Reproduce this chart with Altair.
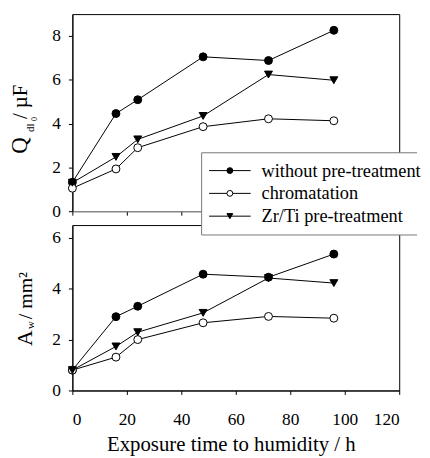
import altair as alt
import pandas as pd

# ---------------- data ----------------
times = [0, 16, 24, 48, 72, 96]
series_names = ["without pre-treatment", "chromatation", "Zr/Ti pre-treatment"]
q_without = [1.32, 4.46, 5.09, 7.05, 6.88, 8.26]
q_chrom = [1.05, 1.93, 2.90, 3.86, 4.22, 4.13]
q_zrti = [1.30, 2.48, 3.28, 4.35, 6.24, 5.98]
a_without = [0.80, 2.90, 3.31, 4.57, 4.45, 5.36]
a_chrom = [0.80, 1.31, 2.00, 2.66, 2.91, 2.84]
a_zrti = [0.80, 1.73, 2.29, 3.05, 4.42, 4.22]
x_ticks = [0, 20, 40, 60, 80, 100, 120]
q_ticks = [0, 2, 4, 6, 8]
a_ticks = [0, 2, 4, 6]
marker_fills = ["black", "white", "black"]
marker_shapes = ["circle", "circle", "triangle-down"]

rows = []
for name, qs, avals in zip(series_names, [q_without, q_chrom, q_zrti], [a_without, a_chrom, a_zrti]):
    for t, q, a in zip(times, qs, avals):
        rows.append({"series": name, "time": t, "Q": q, "A": a})
df = pd.DataFrame(rows)

FONT = "'Liberation Serif', 'DejaVu Serif', 'Times New Roman', serif"
W = 330
H_TOP = 199
H_BOT = 167

fill_scale = alt.Scale(domain=series_names, range=marker_fills)
shape_scale = alt.Scale(domain=series_names, range=marker_shapes)


def txt(text, x, y, size, angle=270, align="left", baseline="alphabetic"):
    return alt.Chart(pd.DataFrame({"t": [text]})).mark_text(
        text=text, angle=angle, align=align, baseline=baseline,
        font=FONT, fontSize=size, color="black"
    ).encode(x=alt.value(x), y=alt.value(y))


def panel(field, domain, ticks, height, top):
    base = alt.Chart(df)
    if top:
        xaxis = alt.Axis(values=x_ticks, labels=False, title=None, domainColor="#9a9a9a",
                         tickColor="black", tickSize=4, grid=False)
    else:
        xaxis = alt.Axis(values=x_ticks, title="Exposure time to humidity / h", tickSize=4,
                         labelPadding=16, titlePadding=6, grid=False, titleX=160, titleAlign="center")
    x = alt.X("time:Q", scale=alt.Scale(domain=[0, 120], nice=False), axis=xaxis)
    y = alt.Y(f"{field}:Q", scale=alt.Scale(domain=domain, nice=False),
              axis=alt.Axis(values=ticks, title=None, tickSize=4, labelPadding=8, grid=False))
    lines = base.mark_line(color="black", strokeWidth=1).encode(x=x, y=y, detail="series:N")
    pts = base.mark_point(filled=True, size=64, stroke="black", strokeWidth=1, opacity=1).encode(
        x=x, y=y,
        shape=alt.Shape("series:N", scale=shape_scale, legend=None),
        fill=alt.Fill("series:N", scale=fill_scale, legend=None),
    )
    return lines, pts


# ---------- top panel ----------
l1, p1 = panel("Q", [0, 9], q_ticks, H_TOP, True)
top_titles = [
    txt("Q", -46, 141, 23),
    txt("dl", -39, 119, 11),
    txt("0", -36, 108, 8),
    txt("/ µF", -46, 106, 21),
]
top = alt.layer(l1, p1, *top_titles).properties(width=W, height=H_TOP)

# ---------- bottom panel ----------
l2, p2 = panel("A", [0, 6.5], a_ticks, H_BOT, False)
bot_titles = [
    txt("A", -41, 122, 22),
    txt("w", -39, 105, 11),
    txt("/ mm²", -41, 95, 20),
]

BX0, BX1, BY0, BY1 = 130.5, 348, -73, 10
legend_layers = [
    alt.Chart(pd.DataFrame({"k": [0]})).mark_rect(fill="white", strokeWidth=0).encode(
        x=alt.value(BX0), x2=alt.value(BX1), y=alt.value(BY0), y2=alt.value(BY1)),
    alt.Chart(pd.DataFrame({"k": [0]})).mark_rule(color="#777777", strokeWidth=1).encode(
        x=alt.value(BX0), x2=alt.value(BX1), y=alt.value(BY0)),
    alt.Chart(pd.DataFrame({"k": [0]})).mark_rule(color="#777777", strokeWidth=1).encode(
        x=alt.value(BX0), x2=alt.value(BX1), y=alt.value(BY1)),
    alt.Chart(pd.DataFrame({"k": [0]})).mark_rule(color="#777777", strokeWidth=1).encode(
        x=alt.value(BX0), y=alt.value(BY0), y2=alt.value(BY1)),
]
row_y = [-55, -32, -9]
for name, fillc, shp, yy in zip(series_names, marker_fills, marker_shapes, row_y):
    one = pd.DataFrame({"k": [0]})
    legend_layers.append(alt.Chart(one).mark_rule(color="black", strokeWidth=1).encode(
        x=alt.value(138), x2=alt.value(180), y=alt.value(yy)))
    legend_layers.append(alt.Chart(one).mark_point(
        shape=shp, filled=True, fill=fillc, stroke="black", strokeWidth=1, size=35, opacity=1
    ).encode(x=alt.value(159), y=alt.value(yy)))
    legend_layers.append(txt(name, 191, yy, 18.5, angle=0, align="left", baseline="middle"))

bottom = alt.layer(l2, p2, *bot_titles, *legend_layers).properties(width=W, height=H_BOT)

chart = alt.vconcat(top, bottom, spacing=14, bounds="flush").configure_view(
    stroke="black", strokeWidth=1
).configure_axis(
    labelFont=FONT, labelFontSize=17.5, labelColor="black", tickColor="black",
    domainColor="black", titleFont=FONT, titleFontSize=21, titleFontWeight="normal",
    titleColor="black", grid=False
).properties(
    padding={"left": 0, "top": 3, "right": 0, "bottom": 0}
)

chart.save("out.html", embed_options={"renderer": "svg", "actions": False})
